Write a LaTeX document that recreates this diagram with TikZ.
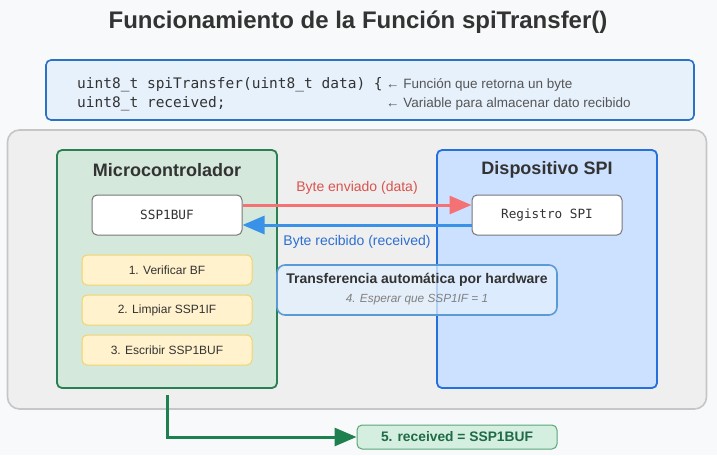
\documentclass[tikz,border=0pt]{standalone}
\usepackage{fontspec}
\setmainfont{Liberation Sans}
\setmonofont{DejaVu Sans Mono}
\usetikzlibrary{arrows.meta,positioning}
\definecolor{bgc}{HTML}{F8F9FA}
\definecolor{titlec}{HTML}{333333}
\definecolor{codefill}{HTML}{E7F1FC}
\definecolor{codeborder}{HTML}{2A72C6}
\definecolor{greyfill}{HTML}{EFEFEF}
\definecolor{greyborder}{HTML}{C6C6C6}
\definecolor{mcfill}{HTML}{D4E8DC}
\definecolor{mcborder}{HTML}{2A7F53}
\definecolor{devfill}{HTML}{CCE0FF}
\definecolor{devborder}{HTML}{2470DC}
\definecolor{yelfill}{HTML}{FFF2CC}
\definecolor{yelborder}{HTML}{F2D46A}
\definecolor{redarrow}{HTML}{F47174}
\definecolor{redtext}{HTML}{D9534F}
\definecolor{bluearrow}{HTML}{3A92E8}
\definecolor{bluetext}{HTML}{2C6FD0}
\definecolor{hwfill}{HTML}{E2EFFD}
\definecolor{hwborder}{HTML}{5B9BD5}
\definecolor{resfill}{HTML}{D4EEDF}
\definecolor{resborder}{HTML}{5AA77A}
\definecolor{restext}{HTML}{1E6B45}
\definecolor{greenarrow}{HTML}{1E7F4F}
\definecolor{commentc}{HTML}{555555}
\definecolor{regborder}{HTML}{777777}
\tikzset{
  panel/.style={draw, line width=1.8pt, rounded corners=5pt, inner sep=0pt},
  regbox/.style={draw=regborder, line width=1pt, fill=white, rounded corners=5pt,
    minimum width=150pt, minimum height=40pt, inner sep=0pt, font=\ttfamily\fontsize{12.7}{15}\selectfont, text=titlec},
  stepbox/.style={draw=yelborder, line width=1pt, fill=yelfill, rounded corners=5pt,
    minimum width=170pt, minimum height=30pt, inner sep=0pt, font=\fontsize{12}{14}\selectfont, text=titlec},
  paneltitle/.style={font=\bfseries\fontsize{18}{21}\selectfont, text=titlec},
  codetext/.style={anchor=west, inner sep=0pt, font=\ttfamily\fontsize{14.5}{17}\selectfont, text=titlec},
  commenttext/.style={anchor=west, inner sep=0pt, font=\fontsize{13.5}{16}\selectfont, text=commentc},
  bigtip/.style={-{Triangle[length=22pt,width=18pt]}}
}
\begin{document}
\begin{tikzpicture}[x=1pt,y=-1pt]
\fill[bgc] (0,0) rectangle (717,455);
\useasboundingbox (0,0) rectangle (717,455);
% title
\node[font=\bfseries\fontsize{24}{28}\selectfont, text=titlec] (title) at (358,22) {Funcionamiento de la Función spiTransfer()};
% code box
\node[draw=codeborder, line width=1.6pt, fill=codefill, rounded corners=5pt, minimum width=648pt, minimum height=60pt, inner sep=0pt] (code) at (370,90) {};
\node[codetext] (c1) at (77,85) {uint8\_t spiTransfer(uint8\_t data) \{};
\node[codetext] (c2) at (77,104) {uint8\_t received;};
\node[commenttext] (m1) at (386,85) {← Función que retorna un byte};
\node[commenttext] (m2) at (386,104) {← Variable para almacenar dato recibido};
% grey container
\node[draw=greyborder, line width=1.6pt, fill=greyfill, rounded corners=12pt, minimum width=699pt, minimum height=279pt, inner sep=0pt] (grey) at (357,269.5) {};
% microcontroller
\node[panel, draw=mcborder, fill=mcfill, minimum width=220pt, minimum height=238pt] (mc) at (167,269) {};
\node[paneltitle] (mct) at (167,170) {Microcontrolador};
% device
\node[panel, draw=devborder, fill=devfill, minimum width=220pt, minimum height=238pt] (dev) at (547,269) {};
\node[paneltitle] (devt) at (547,170) {Dispositivo SPI};
% registers
\node[regbox] (ssp) at (167,215) {SSP1BUF};
\node[regbox] (reg) at (547,215) {Registro SPI};
% steps
\node[stepbox] (s1) at (167,270) {1. Verificar BF};
\node[stepbox] (s2) at (167,310) {2. Limpiar SSP1IF};
\node[stepbox] (s3) at (167,350) {3. Escribir SSP1BUF};
% arrows
\draw[redarrow, line width=3pt, bigtip] ([yshift=10pt]ssp.east) -- ([yshift=10pt]reg.west)
  node[midway, above=6pt, text=redtext, font=\fontsize{14}{16}\selectfont] (lsent) {Byte enviado (data)};
\draw[bluearrow, line width=3pt, bigtip] ([yshift=-10pt]reg.west) -- ([yshift=-10pt]ssp.east)
  node[midway, below=6pt, text=bluetext, font=\fontsize{14}{16}\selectfont] (lrecv) {Byte recibido (received)};
% hardware box
\node[draw=hwborder, line width=1.6pt, fill=hwfill, fill opacity=0.75, rounded corners=8pt, minimum width=280pt, minimum height=50pt, inner sep=0pt] (hw) at (417,290) {};
\node[font=\bfseries\fontsize{14}{16}\selectfont, text=titlec] (hwt) at (417,280) {Transferencia automática por hardware};
\node[font=\itshape\fontsize{11.8}{14}\selectfont, text=gray] (hws) at (417,300) {4. Esperar que SSP1IF = 1};
% result
\node[draw=resborder, line width=1pt, fill=resfill, rounded corners=5pt, minimum width=200pt, minimum height=24pt, inner sep=0pt, font=\bfseries\fontsize{13.8}{16}\selectfont, text=restext] (res) at (457,437) {5. received = SSP1BUF};
\draw[greenarrow, line width=3pt, bigtip] ([yshift=-6pt]mc.south) |- (res.west);
\end{tikzpicture}
\end{document}
